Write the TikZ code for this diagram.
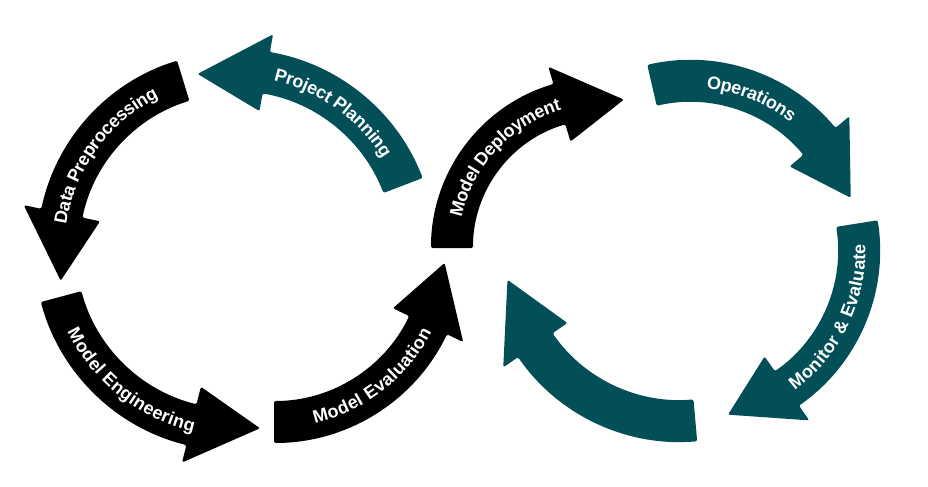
\documentclass[tikz,border=0pt]{standalone}
\usepackage{fontspec}
\usepackage{tikz}
\usetikzlibrary{decorations.text}
\newfontfamily\arrowfont{Liberation Sans}
\definecolor{cycleteal}{RGB}{3,79,87}
\newcommand{\labelfont}{\arrowfont\bfseries\fontsize{13.5pt}{15pt}\selectfont}

% circular arrow: centre x, centre y, radius, tail angle, base angle, tip angle, colour
\newcommand{\cycarrow}[7]{%
  \pgfmathsetmacro{\bandout}{#3+21}%
  \pgfmathsetmacro{\bandin}{#3-21}%
  \pgfmathsetmacro{\barbout}{#3+39}%
  \pgfmathsetmacro{\barbin}{#3-39}%
  \fill[#7, shift={(#1,#2)}, rounded corners=1.5pt]
    (#4:\bandout) arc[start angle=#4, end angle=#5, radius=\bandout]
    -- (#5:\barbout) -- (#6:#3) -- (#5:\barbin) -- (#5:\bandin)
    arc[start angle=#5, end angle=#4, radius=\bandin] -- cycle;}

% label on an arrow: centre x, centre y, radius, from angle, to angle, text
\newcommand{\cyclabel}[6]{%
  \path[shift={(#1,#2)}, decorate, decoration={text along path, text align=center,
      raise=-4.8pt, text color=white, text={|\labelfont|#6}}]
    (#4:#3) arc[start angle=#4, end angle=#5, radius=#3];}

\begin{document}
\begin{tikzpicture}[x=0.75pt,y=-0.75pt]
    \useasboundingbox (0,0) rectangle (928,486);

    %Shape: Circular Arrow [Project Planning]
    \cycarrow{235}{250}{180}{-21}{-80}{-102}{cycleteal}
    %Shape: Circular Arrow [Data Preprocessing]
    \cycarrow{235}{250}{177}{-107}{-168}{-190}{black}
    %Shape: Circular Arrow [Model Engineering]
    \cycarrow{235}{250}{180}{165}{104}{82}{black}
    %Shape: Circular Arrow [Model Evaluation]
    \cycarrow{274}{251}{171}{90}{25.7}{4}{black}
    %Shape: Circular Arrow [Model Deployment]
    \cycarrow{602}{248}{150}{-180}{-106.5}{-81.6}{black}
    %Shape: Circular Arrow [Operations]
    \cycarrow{690}{250}{169}{-103}{-40}{-18}{cycleteal}
    %Shape: Circular Arrow [Monitor & Evaluate]
    \cycarrow{690}{250}{169}{-9}{55}{77}{cycleteal}
    %Shape: Circular Arrow [bottom]
    \cycarrow{680}{245}{176}{85}{145.3}{168.6}{cycleteal}

    % Text Node
    \cyclabel{235}{250}{180}{-99.5}{-9.5}{Project Planning}
    % Text Node
    \cyclabel{235}{250}{177}{-189}{-99}{Data Preprocessing}
    % Text Node
    \cyclabel{235}{250}{180}{173.5}{83.5}{Model Engineering}
    % Text Node
    \cyclabel{274}{251}{171}{97}{7}{Model Evaluation}
    % Text Node
    \cyclabel{602}{248}{150}{-182}{-92}{Model Deployment}
    % Text Node
    \cyclabel{690}{250}{169}{-113}{-23}{Operations}
    % Text Node
    \cyclabel{690}{250}{169}{70.75}{-19.25}{Monitor {\&} Evaluate}

\end{tikzpicture}
\end{document}
